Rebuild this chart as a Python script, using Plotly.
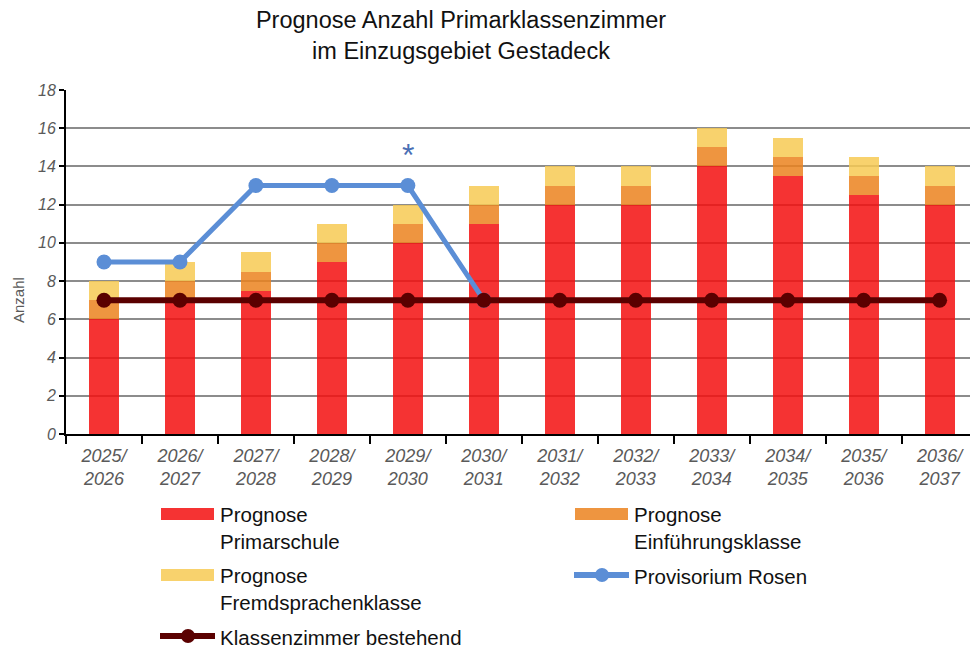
import plotly.graph_objects as go

categories = ["2025/<br>2026", "2026/<br>2027", "2027/<br>2028", "2028/<br>2029", "2029/<br>2030",
              "2030/<br>2031", "2031/<br>2032", "2032/<br>2033", "2033/<br>2034", "2034/<br>2035",
              "2035/<br>2036", "2036/<br>2037"]
primarschule = [6, 7, 7.5, 9, 10, 11, 12, 12, 14, 13.5, 12.5, 12]
einfuehrung = [1, 1, 1, 1, 1, 1, 1, 1, 1, 1, 1, 1]
fremdsprachen = [1, 1, 1, 1, 1, 1, 1, 1, 1, 1, 1, 1]
provisorium = [9, 9, 13, 13, 13, 7, None, None, None, None, None, None]
bestehend = [7, 7, 7, 7, 7, 7, 7, 7, 7, 7, 7, 7]
y_ticks = [0, 2, 4, 6, 8, 10, 12, 14, 16, 18]

C_RED = "rgba(243,15,15,0.85)"
C_ORANGE = "rgba(235,130,30,0.85)"
C_YELLOW = "rgba(247,202,84,0.85)"
C_BLUE = "#5B8ED6"
C_DARK = "#5A0000"

W, H = 970, 648
ML, MR, MT, MB = 66, 0, 90, 214
PW, PH = W - ML - MR, H - MT - MB

def px(x):
    return (x - ML) / PW

def py(y):
    return (H - MB - y) / PH

fig = go.Figure()
fig.add_trace(go.Bar(x=categories, y=primarschule, marker=dict(color=C_RED, line=dict(width=0)),
                     name="Prognose Primarschule", showlegend=False))
fig.add_trace(go.Bar(x=categories, y=einfuehrung, marker=dict(color=C_ORANGE, line=dict(width=0)),
                     name="Prognose Einführungsklasse", showlegend=False))
fig.add_trace(go.Bar(x=categories, y=fremdsprachen, marker=dict(color=C_YELLOW, line=dict(width=0)),
                     name="Prognose Fremdsprachenklasse", showlegend=False))
fig.add_trace(go.Scatter(x=categories, y=provisorium, mode="lines+markers",
                         line=dict(color=C_BLUE, width=5), marker=dict(color=C_BLUE, size=15),
                         name="Provisorium Rosen", showlegend=False, connectgaps=False))
fig.add_trace(go.Scatter(x=categories, y=bestehend, mode="lines+markers",
                         line=dict(color=C_DARK, width=6), marker=dict(color=C_DARK, size=15),
                         name="Klassenzimmer bestehend", showlegend=False))

font = "Liberation Sans, Arial, sans-serif"

# asterisk above 2029/2030
fig.add_annotation(x=categories[4], y=14.6, text="*", showarrow=False,
                   font=dict(size=32, color="#4A6FB5", family=font), yanchor="middle")

# y-axis title
fig.add_annotation(xref="paper", yref="paper", x=px(18), y=py(300), text="Anzahl", textangle=-90,
                   showarrow=False, xanchor="center", yanchor="middle",
                   font=dict(size=15, color="#5a5a5a", family=font))

# manual legend
shapes = []
annots = []
def rect_swatch(x0, yc, color):
    shapes.append(dict(type="rect", xref="paper", yref="paper", x0=px(x0), x1=px(x0 + 53),
                       y0=py(yc + 6), y1=py(yc - 6), fillcolor=color, line=dict(width=0)))

def line_swatch(x0, yc, color):
    shapes.append(dict(type="line", xref="paper", yref="paper", x0=px(x0), x1=px(x0 + 55),
                       y0=py(yc), y1=py(yc), line=dict(color=color, width=6)))
    shapes.append(dict(type="circle", xref="paper", yref="paper", x0=px(x0 + 21), x1=px(x0 + 35),
                       y0=py(yc + 7), y1=py(yc - 7), fillcolor=color, line=dict(width=0)))

def label(x0, yc, text):
    annots.append(dict(xref="paper", yref="paper", x=px(x0), y=py(yc), text=text, showarrow=False,
                       xanchor="left", yanchor="middle", align="left",
                       font=dict(size=20.5, color="#111111", family=font)))

rect_swatch(161, 514, C_RED)
label(218, 528, "Prognose<br>Primarschule")
rect_swatch(575, 514, C_ORANGE)
label(632, 528, "Prognose<br>Einführungsklasse")
rect_swatch(161, 575, C_YELLOW)
label(218, 589, "Prognose<br>Fremdsprachenklasse")
line_swatch(574, 575, C_BLUE)
label(632, 576, "Provisorium Rosen")
line_swatch(160, 636, C_DARK)
label(218, 637, "Klassenzimmer bestehend")

for a in annots:
    fig.add_annotation(**a)

fig.update_layout(
    shapes=shapes,
    barmode="stack",
    bargap=0.605,
    width=W, height=H,
    margin=dict(l=ML, r=MR, t=MT, b=MB, autoexpand=False),
    paper_bgcolor="white", plot_bgcolor="white",
    font=dict(family=font),
    title=dict(text="Prognose Anzahl Primarklassenzimmer<br>im Einzugsgebiet Gestadeck",
               x=461 / W, xanchor="center", y=1 - 28 / H, yanchor="middle",
               font=dict(size=23.5, color="#111111", family=font)),
    showlegend=False,
)
fig.update_xaxes(range=[-0.5, 11.4], showline=True, linecolor="black", linewidth=2, ticks="outside",
                 tickson="boundaries",
                 ticklen=8, tickwidth=2, tickcolor="black", ticklabelstandoff=4,
                 tickfont=dict(size=18, color="#5a5a5a", family=font, style="italic"),
                 showgrid=False)
fig.update_yaxes(range=[0, 18], tickvals=y_ticks, showline=True, linecolor="black", linewidth=2,
                 ticks="outside", ticklen=5, tickwidth=2, tickcolor="black",
                 tickfont=dict(size=16, color="#5a5a5a", family=font, style="italic"),
                 showgrid=True, gridcolor="#8c8c8c", gridwidth=2, zeroline=False)

fig.write_html("out.html", config={"displayModeBar": False},
               post_script="document.body.style.margin='0';document.body.style.overflow='hidden';")
